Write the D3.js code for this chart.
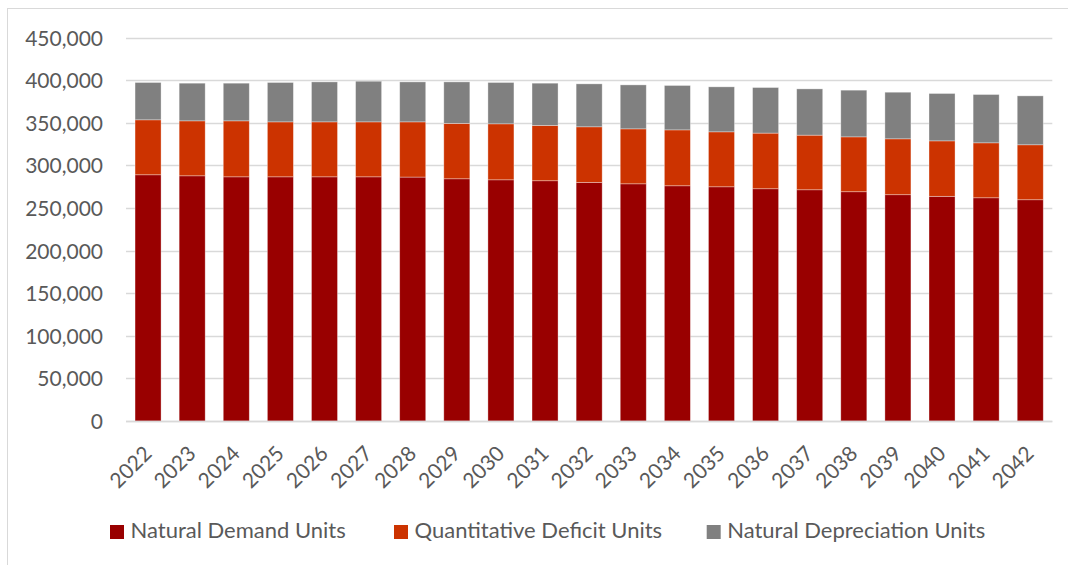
<!DOCTYPE html>
<html>
<head>
<meta charset="utf-8">
<script src="https://cdn.jsdelivr.net/npm/d3@7"></script>
<style>
  html, body { margin: 0; padding: 0; background: #fff; }
  svg { display: block; }
  text { font-family: Lato, "Open Sans", sans-serif; fill: #595959; }
</style>
</head>
<body>
<svg id="chart" width="1068" height="565"></svg>
<script>
const years = ["2022","2023","2024","2025","2026","2027","2028","2029","2030","2031","2032",
               "2033","2034","2035","2036","2037","2038","2039","2040","2041","2042"];
const naturalDemand = [289000,287800,286600,286600,286600,286600,286300,284300,283100,282000,280100,
                       278400,276100,274900,272600,271400,269100,265600,263700,262000,259700];
const quantitativeDeficit = [64500,64500,65700,64500,64500,64500,64800,65000,65700,64900,65200,
                             64500,65600,64500,65300,64100,64400,65600,65100,64500,64500];
const naturalDepreciation = [43800,44200,44200,46200,46900,47700,46900,48700,48500,49600,50400,
                             51600,52100,52800,53500,54300,54800,54700,55600,56700,57400];
const seriesNames = ["Natural Demand Units","Quantitative Deficit Units","Natural Depreciation Units"];
const seriesColors = ["#990000","#CC3300","#808080"];
const yTicks = [0,50000,100000,150000,200000,250000,300000,350000,400000,450000];

const svg = d3.select("#chart");
const fontSize = 21;
const legendFontSize = 22;

// outer chart border
svg.append("rect").attr("x",7.5).attr("y",8.5).attr("width",1200).attr("height",700)
  .attr("fill","none").attr("stroke","#d9d9d9").attr("stroke-width",1);

const x = d3.scaleBand().domain(years).range([126, 1052.3]).paddingInner(0.41).paddingOuter(0.205);
const y = d3.scaleLinear().domain([0, 450000]).range([421, 37.6]);

// gridlines
svg.append("g").selectAll("line").data(yTicks).join("line")
  .attr("x1",126).attr("x2",1052.3)
  .attr("y1",d=>Math.round(y(d))+0.5).attr("y2",d=>Math.round(y(d))+0.5)
  .attr("stroke","#d9d9d9").attr("stroke-width",1.3);

// y labels
const yAxis = d3.axisLeft(y).tickValues(yTicks).tickFormat(d3.format(",")).tickSize(0).tickPadding(0);
const yg = svg.append("g").attr("transform","translate(103,0)").call(yAxis);
yg.select(".domain").remove();
yg.selectAll("text").attr("font-size",fontSize).attr("font-family",null).attr("fill","#595959")
  .attr("dy","0.36em");

// stack
const table = years.map((yr,i)=>({year:yr, s0:naturalDemand[i], s1:quantitativeDeficit[i], s2:naturalDepreciation[i]}));
const stack = d3.stack().keys(["s0","s1","s2"])(table);

svg.append("g").selectAll("g").data(stack).join("g")
  .attr("fill",(d,i)=>seriesColors[i])
  .selectAll("rect").data(d=>d).join("rect")
  .attr("x",d=>x(d.data.year))
  .attr("width",x.bandwidth())
  .attr("y",d=>y(d[1]))
  .attr("height",d=>y(d[0])-y(d[1]))
  .attr("stroke","rgba(255,255,255,0.45)").attr("stroke-width",0.75);

// baseline
svg.append("line").attr("x1",126).attr("x2",1052.3).attr("y1",Math.round(y(0))+0.5).attr("y2",Math.round(y(0))+0.5)
  .attr("stroke","#d9d9d9").attr("stroke-width",1.3);

// x labels
const xAxis = d3.axisBottom(x).tickSize(0).tickPadding(0);
const xg = svg.append("g").call(xAxis);
xg.select(".domain").remove();
xg.selectAll(".tick").attr("transform",d=>`translate(${x(d)+x.bandwidth()/2+5},455)`);
xg.selectAll("text").attr("font-size",fontSize).attr("font-family",null).attr("fill","#595959")
  .attr("y",0).attr("dy",0).attr("text-anchor","end").attr("transform","rotate(-45)");

// legend
const legendX = [110, 394, 706.7];
const leg = svg.append("g").selectAll("g").data(seriesNames).join("g")
  .attr("transform",(d,i)=>`translate(${legendX[i]},0)`);
leg.append("rect").attr("x",0).attr("y",525).attr("width",14).attr("height",14)
  .attr("fill",(d,i)=>seriesColors[i]);
leg.append("text").attr("x",20.5).attr("y",538).attr("font-size",legendFontSize).text(d=>d);
</script>
</body>
</html>
